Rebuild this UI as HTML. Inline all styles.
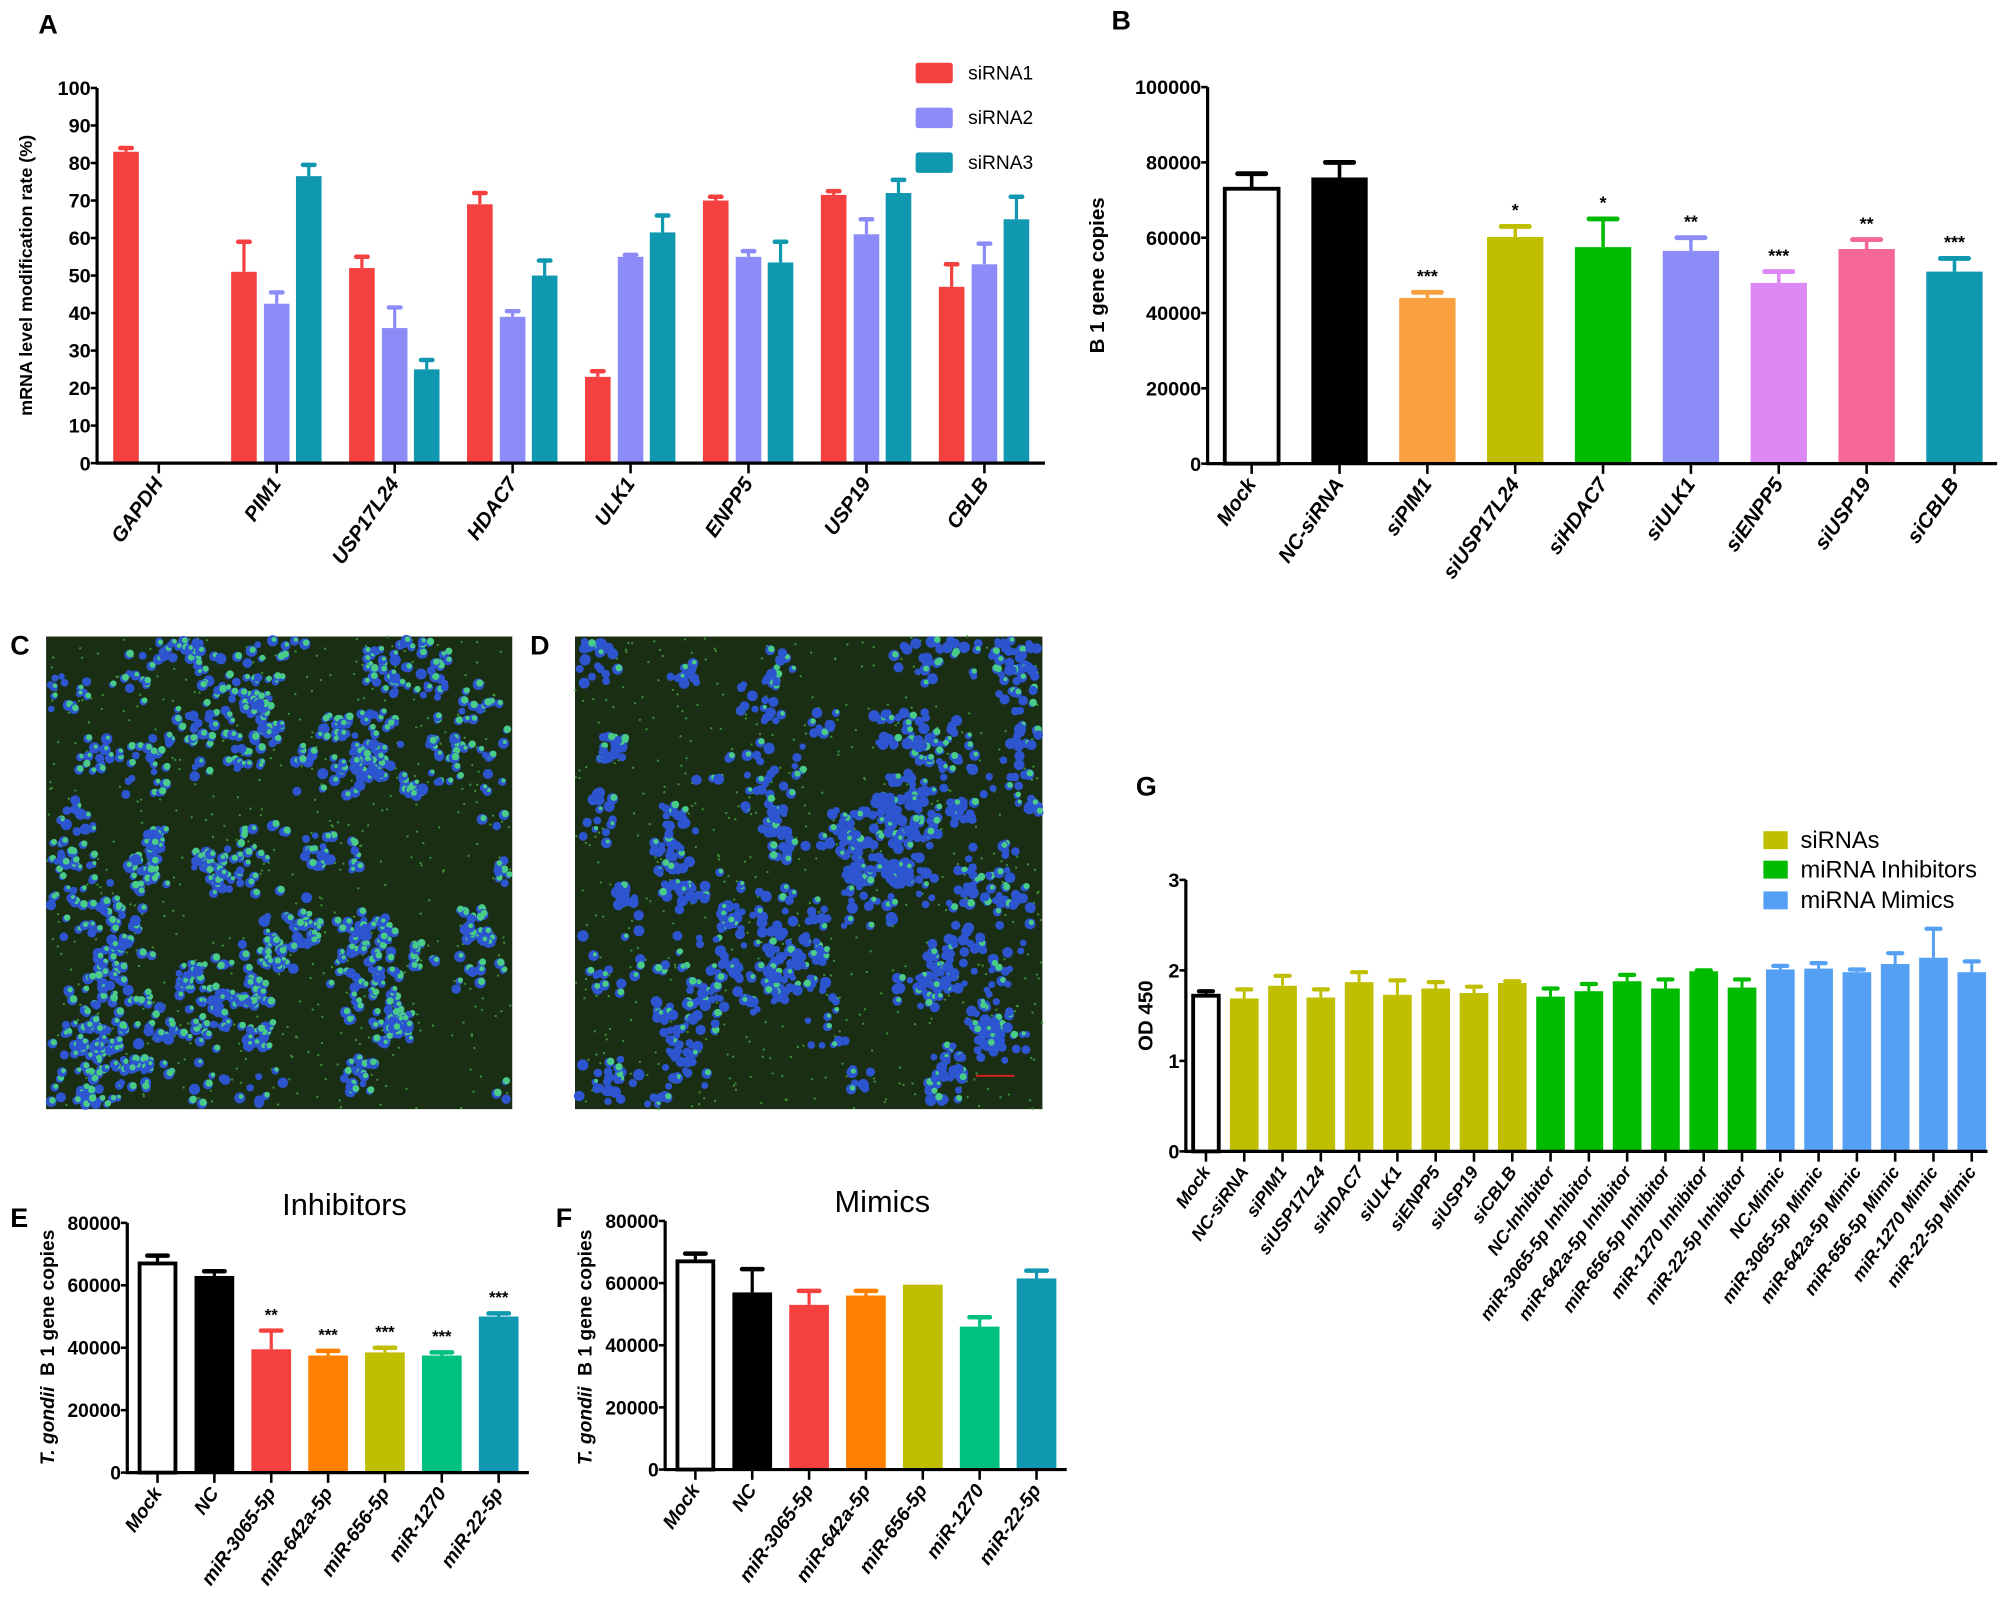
<!DOCTYPE html>
<html><head><meta charset="utf-8">
<style>
html,body{margin:0;padding:0;background:#fff;}
svg{display:block;}
text{font-family:"Liberation Sans Narrow","Liberation Sans",sans-serif;}
.b{font-weight:bold;}
.wide{font-family:"Liberation Sans",sans-serif;font-weight:bold;}
</style></head>
<body>
<svg id="fig" xmlns="http://www.w3.org/2000/svg" width="2008" height="1624" viewBox="0 0 1568 1268" preserveAspectRatio="none">
<g id="micro"></g>
<g id="charts"></g>
</svg>
<script>
// ---------- Panel A data ----------
const aCats = ["GAPDH","PIM1","USP17L24","HDAC7","ULK1","ENPP5","USP19","CBLB"];
const aSeries = ["siRNA1","siRNA2","siRNA3"];
const aSi1 = [83,51,52,69,23,70,71.5,47];
const aSi1Err = [84,59,55,72,24.5,71,72.5,53];
const aSi2 = [0,42.5,36,39,55,55,61,53];
const aSi2Err = [0,45.5,41.5,40.5,55.5,56.5,65,58.5];
const aSi3 = [0,76.5,25,50,61.5,53.5,72,65];
const aSi3Err = [0,79.5,27.5,54,66,59,75.5,71];
const aTicks = [0,10,20,30,40,50,60,70,80,90,100];
// ---------- Panel B data ----------
const bCats = ["Mock","NC-siRNA","siPIM1","siUSP17L24","siHDAC7","siULK1","siENPP5","siUSP19","siCBLB"];
const bVals = [73000,76000,44000,60200,57500,56500,48000,57000,51000];
const bErr = [77000,80000,45500,63000,65000,60000,51000,59500,54500];
const bStars = ["","","***","*","*","**","***","**","***"];
const bTicks = [0,20000,40000,60000,80000,100000];
// ---------- Panel G data ----------
const gCats = ["Mock","NC-siRNA","siPIM1","siUSP17L24","siHDAC7","siULK1","siENPP5","siUSP19","siCBLB","NC-Inhibitor","miR-3065-5p Inhibitor","miR-642a-5p Inhibitor","miR-656-5p Inhibitor","miR-1270 Inhibitor","miR-22-5p Inhibitor","NC-Mimic","miR-3065-5p Mimic","miR-642a-5p Mimic","miR-656-5p Mimic","miR-1270 Mimic","miR-22-5p Mimic"];
const gVals = [1.72,1.69,1.83,1.70,1.87,1.73,1.80,1.75,1.86,1.71,1.77,1.88,1.80,1.99,1.81,2.01,2.02,1.98,2.07,2.14,1.98];
const gErr = [1.77,1.79,1.94,1.79,1.98,1.89,1.87,1.82,1.88,1.80,1.85,1.95,1.90,2.00,1.90,2.05,2.08,2.01,2.19,2.46,2.10];
const gGroup = [0,1,1,1,1,1,1,1,1,2,2,2,2,2,2,3,3,3,3,3,3];
const gLegend = ["siRNAs","miRNA Inhibitors","miRNA Mimics"];
const gTicks = [0,1,2,3];
// ---------- Panel E data ----------
const eCats = ["Mock","NC","miR-3065-5p","miR-642a-5p","miR-656-5p","miR-1270","miR-22-5p"];
const eVals = [67000,63000,39500,37500,38500,37500,50000];
const eErr = [69500,64500,45500,39000,40000,38500,51000];
const eStars = ["","","**","***","***","***","***"];
// ---------- Panel F data ----------
const fCats = ["Mock","NC","miR-3065-5p","miR-642a-5p","miR-656-5p","miR-1270","miR-22-5p"];
const fVals = [67000,57000,53000,56000,59500,46000,61500];
const fErr = [69500,64500,57500,57500,59500,49000,64000];
const efTicks = [0,20000,40000,60000,80000];

const NS="http://www.w3.org/2000/svg";
const root=document.getElementById('charts');
function el(tag,attrs,parent,txt){const e=document.createElementNS(NS,tag);for(const k in attrs)e.setAttribute(k,attrs[k]);if(txt!==undefined)e.textContent=txt;(parent||root).appendChild(e);return e;}
function lin(d0,d1,r0,r1){return v=>r0+(v-d0)/(d1-d0)*(r1-r0);}

function axes(g,x0,xEnd,yTop,y0,ticks,y,fs,lw){
  const ax=el('line',{x1:x0,y1:yTop,x2:x0,y2:y0,stroke:'#000','stroke-width':lw},g);
  
  const bx=el('line',{x1:x0-1,y1:y0,x2:xEnd,y2:y0,stroke:'#000','stroke-width':lw},g);
  
  ticks.forEach(t=>{
    el('line',{x1:x0-5,y1:y(t),x2:x0,y2:y(t),stroke:'#000','stroke-width':lw*0.8},g);
    const tl=el('text',{x:x0-5,y:y(t)+fs*0.36,'text-anchor':'end','font-size':fs,class:'b'},g,String(t));
    
  });
}
function xLabels(g,cats,xs,y0,fs,rot,name){
  cats.forEach((c,i)=>{
    el('line',{x1:xs[i],y1:y0,x2:xs[i],y2:y0+8,stroke:'#000','stroke-width':2},g);
    const t=el('text',{x:xs[i]+4,y:y0+16,'text-anchor':'end','font-size':fs,'font-style':'italic',class:'wide',transform:`rotate(${rot} ${xs[i]+4} ${y0+16})`},g,c);
    
  });
}
function bar(g,cx,w,yv,y0,fill,stroke,name){
  const r=el('rect',{x:cx-w/2,y:yv,width:w,height:Math.max(0,y0-yv),fill:fill,stroke:stroke||'none','stroke-width':stroke?3:0},g);
  
  return r;
}
function errBar(g,cx,w,yv,ye,col,lw){
  if(ye>=yv-0.5)return;
  const l=el('line',{x1:cx,y1:yv,x2:cx,y2:ye,stroke:col,'stroke-width':lw},g);
  
  el('line',{x1:cx-w/2,y1:ye,x2:cx+w/2,y2:ye,stroke:col,'stroke-width':lw+1,'stroke-linecap':'round'},g);
}
function plabel(x,y,t){const e=el('text',{x:x,y:y,'font-size':21,class:'wide'},root,t);}

// ---------- Panel A ----------
(function(){
  const g=el('g',{});
  const x0=75.8,y0=361.6,yTop=68.7,sp=92.1,c0=124;
  const y=lin(0,100,y0,yTop);
  const xs=aCats.map((c,i)=>c0+i*sp);
  const cols=['#f54040','#8c8cf8','#1098b0'];
  const vals=[aSi1,aSi2,aSi3],errs=[aSi1Err,aSi2Err,aSi3Err],offs=[-25.6,0,25];
  aCats.forEach((c,i)=>{
    for(let s=0;s<3;s++){
      if(vals[s][i]<=0)continue;
      const cx=xs[i]+offs[s];
      bar(g,cx,20,y(vals[s][i]),y0,cols[s],null,'bar-'+aSeries[s].toLowerCase()+'-'+c.toLowerCase());
      errBar(g,cx,9,y(vals[s][i]),y(errs[s][i]),cols[s],2.5);
    }
  });
  axes(g,x0,816,yTop,y0,aTicks,y,15.5,2.5);
  xLabels(g,aCats,xs,y0,16,-55,'x-tick-label');
  const yt=el('text',{x:0,y:0,'font-size':14,class:'wide','text-anchor':'middle',transform:'translate(25 215) rotate(-90)'},g,'mRNA level modification rate (%)');
  
  aSeries.forEach((s,i)=>{
    const ly=[49,84,119][i];
    const r=el('rect',{x:715,y:ly,width:29,height:16,rx:2,fill:cols[i]},g);
    
    const t=el('text',{x:756,y:ly+13,'font-size':15},g,s);
    
  });
  plabel(30,26,'A');
})();

// ---------- Panel B ----------
(function(){
  const g=el('g',{});
  const x0=943,y0=362,yTop=68,sp=68.6,c0=977.4;
  const y=lin(0,100000,y0,yTop);
  const xs=bCats.map((c,i)=>c0+i*sp);
  const cols=['#fff','#000','#f9a040','#bfbf00','#00bb00','#8c8cf8','#dd88f5','#f56797','#1098b0'];
  bCats.forEach((c,i)=>{
    const ec=i===0?'#000':cols[i];
    errBar(g,xs[i],22,y(bVals[i]),y(bErr[i]),ec,2.8);
    bar(g,xs[i],i===0?42:44,y(bVals[i]),y0,cols[i],i===0?'#000':null,'bar-'+c.toLowerCase());
    if(bStars[i]){const s=el('text',{x:xs[i],y:y(bErr[i])-8,'text-anchor':'middle','font-size':14,class:'b'},g,bStars[i]);}
  });
  axes(g,x0,1559.5,yTop,y0,bTicks,y,15.5,2.5);
  xLabels(g,bCats,xs,y0,16,-55,'x-tick-label');
  const yt=el('text',{x:0,y:0,'font-size':16,class:'wide','text-anchor':'middle',transform:'translate(862 215) rotate(-90)'},g,'B 1 gene copies');
  
  plabel(868,23,'B');
})();

// ---------- Panel G ----------
(function(){
  const g=el('g',{});
  const x0=926,y0=899,yTop=687,sp=29.9,c0=941.7;
  const y=lin(0,3,y0,yTop);
  const xs=gCats.map((c,i)=>c0+i*sp);
  const cols=['#fff','#bfbf00','#00bb00','#55a0f5'];
  gCats.forEach((c,i)=>{
    const col=cols[gGroup[i]],ec=i===0?'#000':col;
    errBar(g,xs[i],11,y(gVals[i]),y(gErr[i]),ec,2.3);
    bar(g,xs[i],i===0?20:22.4,y(gVals[i]),y0,col,i===0?'#000':null,'bar-'+c.toLowerCase().replace(/ /g,'-'));
  });
  axes(g,x0,1552,yTop,y0,gTicks,y,15.5,2.5);
  xLabels(g,gCats,xs,y0,14,-55,'x-tick-label');
  const yt=el('text',{x:0,y:0,'font-size':16,class:'wide','text-anchor':'middle',transform:'translate(900 793) rotate(-90)'},g,'OD 450');
  
  gLegend.forEach((s,i)=>{
    const ly=[649,672,696][i];
    const r=el('rect',{x:1377,y:ly,width:19,height:14,fill:cols[i+1]},g);
    
    const t=el('text',{x:1406,y:ly+13,'font-size':18.5},g,s);
    
  });
  plabel(887,621,'G');
})();

// ---------- Panels E and F ----------
function efPanel(name,cats,vals,errs,stars,x0,y0,yTop,c0,xEnd,title,tx,ytx){
  const g=el('g',{});
  const sp=44.4;
  const y=lin(0,80000,y0,yTop);
  const xs=cats.map((c,i)=>c0+i*sp);
  const cols=['#fff','#000','#f54040','#ff8000','#bfbf00','#00c080','#1098b0'];
  cats.forEach((c,i)=>{
    const ec=i===0?'#000':cols[i];
    errBar(g,xs[i],16,y(vals[i]),y(errs[i]),ec,2.5);
    bar(g,xs[i],i===0?28:31,y(vals[i]),y0,cols[i],i===0?'#000':null,'bar-'+c.toLowerCase());
    if(stars&&stars[i]){const s=el('text',{x:xs[i],y:y(errs[i])-8,'text-anchor':'middle','font-size':13,class:'b'},g,stars[i]);}
  });
  axes(g,x0,xEnd,yTop,y0,efTicks,y,15,2.5);
  xLabels(g,cats,xs,y0,15,-55,'x-tick-label');
  const t=el('text',{x:tx,y:y0-201,'text-anchor':'middle','font-size':24},g,title);
  
  const yt=el('text',{x:0,y:0,'font-size':15,class:'wide','text-anchor':'middle',transform:`translate(${ytx} 1052) rotate(-90)`},g);
  
  el('tspan',{'font-style':'italic'},yt,'T. gondii');
  el('tspan',{},yt,'\u00a0\u00a0B 1 gene copies');
}
efPanel('panel-e-chart',eCats,eVals,eErr,eStars,99.4,1149.8,954.8,123,413,'Inhibitors',269,42);
efPanel('panel-f-chart',fCats,fVals,fErr,null,519.4,1147.4,953.3,543,833,'Mimics',689,462);
plabel(8,958,'E');plabel(434,958,'F');

// ---------- Micrographs C, D ----------
(function(){
  const m=document.getElementById('micro');
  let seed=12345;function rnd(){seed=(seed*1103515245+12345)&0x7fffffff;return seed/0x7fffffff;}
  function micro(name,x,y,w,h,greenFrac){
    const g=el('g',{},m);
    el('rect',{x:x,y:y,width:w,height:h,fill:'#1a2e14'},g);
    for(let k=0;k<500;k++)el('circle',{cx:x+rnd()*w,cy:y+rnd()*h,r:0.9,fill:'#3f8f3a'},g);
    for(let k=0;k<90;k++){
      const cx=x+rnd()*w,cy=y+rnd()*h,n=6+Math.floor(rnd()*20),sp=8+rnd()*18;
      for(let j=0;j<n;j++){
        const px=cx+(rnd()-0.5)*2*sp,py=cy+(rnd()-0.5)*2*sp;
        if(px<x+3||px>x+w-3||py<y+3||py>y+h-3)continue;
        el('circle',{cx:px,cy:py,r:2.5+rnd()*2,fill:'#2d55d0'},g);
        if(rnd()<greenFrac)el('circle',{cx:px+1,cy:py-1,r:1.5+rnd()*1.5,fill:'#48cc88'},g);
      }
    }
  }
  micro('micrograph-c',36,497,364,369,0.75);
  micro('micrograph-d',449,497,365,369,0.3);
  const sb=el('line',{x1:762,y1:840,x2:792,y2:840,stroke:'#e02020','stroke-width':1.5},m);
  
})();
plabel(8,511,'C');plabel(414,511,'D');
</script>
</body></html>
